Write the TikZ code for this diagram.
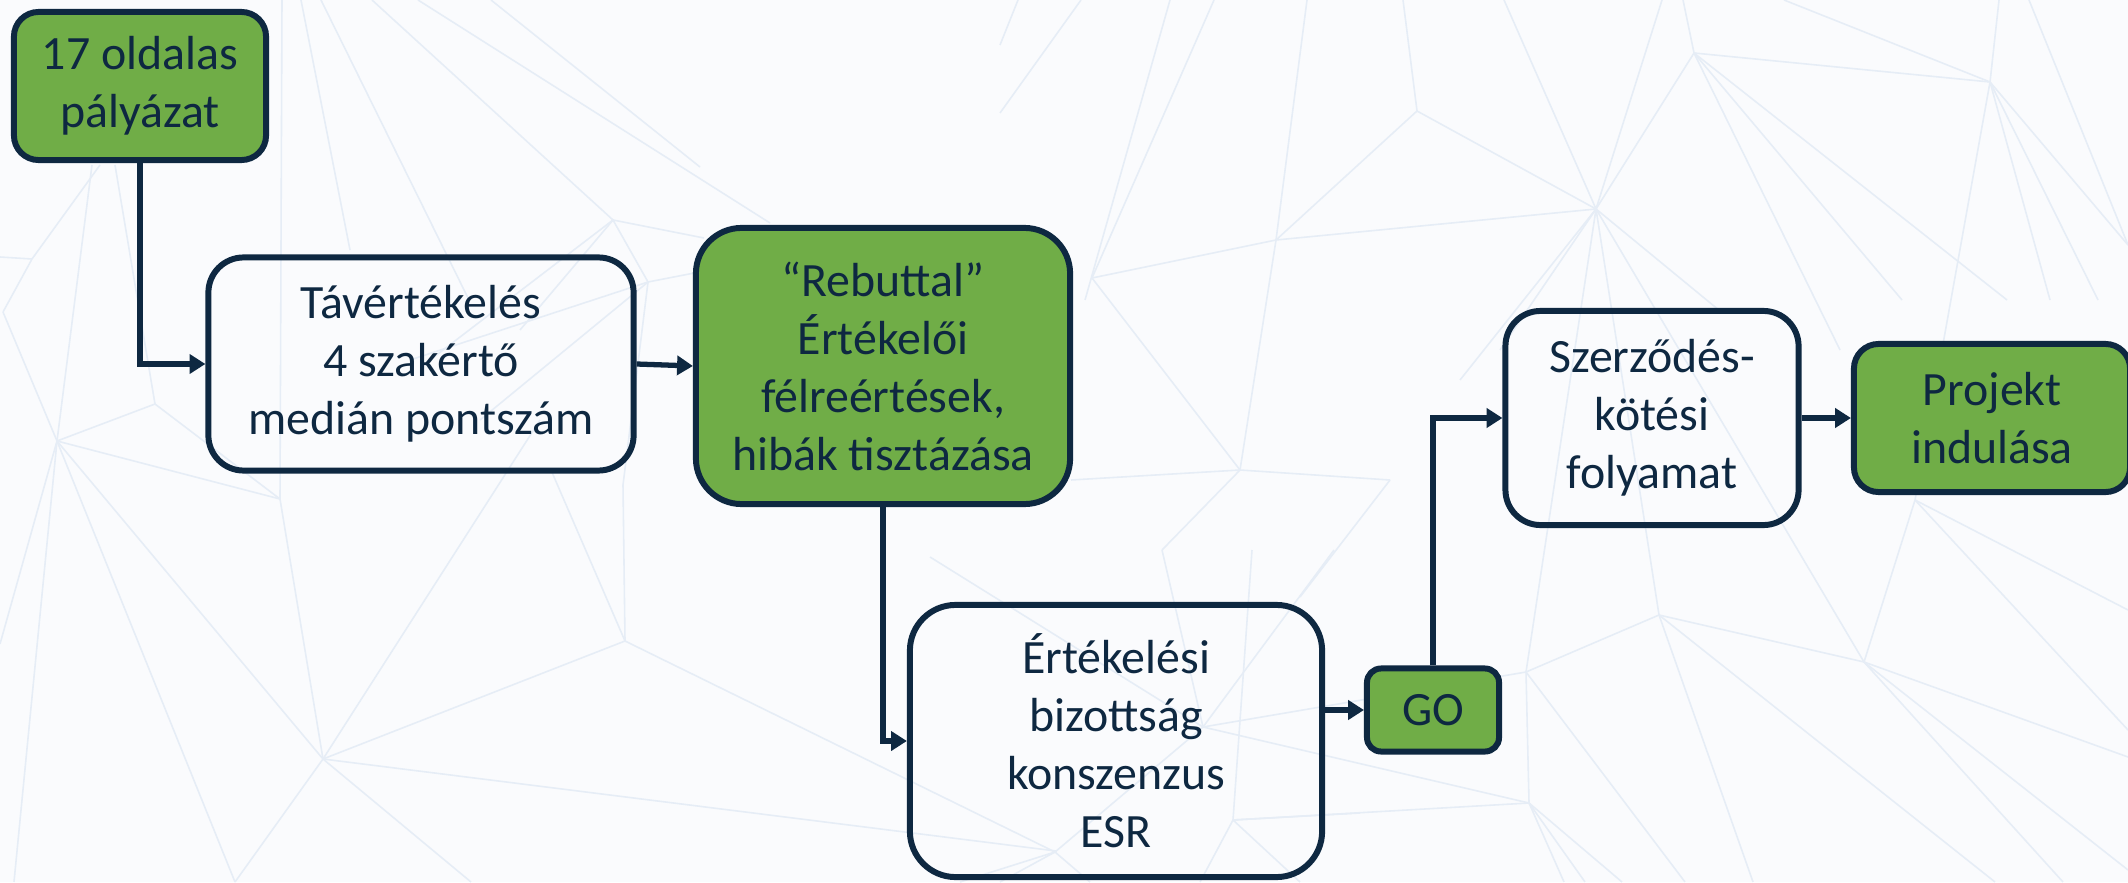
\documentclass[tikz,border=0pt]{standalone}
\usepackage{fontspec}
\setmainfont{Carlito}
\usetikzlibrary{arrows.meta}
\definecolor{navy}{HTML}{0E2841}
\definecolor{leaf}{HTML}{70AD47}
\definecolor{paper}{HTML}{FAFBFD}
\definecolor{meshblue}{HTML}{E6EDF6}

\begin{document}
\begin{tikzpicture}[x=0.01cm,y=-0.01cm,
    box/.style={draw=navy,line width=1.7pt,align=center,text=navy,inner sep=0pt,
      font=\fontsize{13.6}{16.5}\selectfont},
    greenbox/.style={box,fill=leaf},
    flow/.style={draw=navy,line width=1.5pt,-{Triangle[length=4.5pt,width=5.4pt]}},
    meshline/.style={draw=meshblue,line width=0.45pt}]
    \useasboundingbox (0,0) rectangle (2128,882);
    \fill[paper] (0,0) rectangle (2128,882);
    % faint triangle mesh in the background
    \foreach \xa/\ya/\xb/\yb in {57/441/155/404, 155/404/280/499, 57/441/280/499,
      0/257/32/259, 32/259/3/312, 3/312/57/441, 32/259/100/165, 57/441/92/165,
      155/404/115/165, 57/441/0/644, 57/441/14/882, 57/441/323/759, 57/441/235/882,
      280/499/323/759, 280/499/282/0, 323/759/1056/851, 323/759/540/420,
      323/759/235/882, 323/759/471/882, 323/759/625/641, 625/641/623/485,
      625/641/1055/852, 625/641/551/470, 623/485/648/282, 648/282/613/220,
      648/282/720/268, 648/282/410/360, 648/282/480/420, 613/220/372/0,
      418/0/770/223, 613/220/704/238, 613/220/430/360, 613/220/520/330,
      301/0/350/250, 321/0/469/300, 491/0/700/167,
      1403/0/1417/111, 1417/111/1596/209, 1417/111/1276/240, 1504/0/1596/209,
      1662/0/1596/209, 1694/53/1596/209, 1683/0/1694/53, 1694/53/1990/82,
      1784/0/1990/82, 1999/0/1990/82, 2029/0/2128/245, 1307/0/1276/240,
      1276/240/1596/209, 1276/240/1092/278, 1214/0/1092/278, 1170/0/1085/300,
      1081/0/1000/113, 1018/0/1000/45, 1596/209/1460/380, 1596/209/1500/350,
      1596/209/1526/672, 1596/209/1659/615, 1596/209/1864/662, 1596/209/1720/311,
      1694/53/1840/350, 1694/53/1902/300, 1694/53/2007/300, 1990/82/2050/300,
      1990/82/2098/300, 1990/82/2128/245, 1990/82/1915/500,
      1276/240/1240/470, 1092/278/1240/470, 1240/470/1071/480, 1240/470/1390/480,
      1240/470/1162/550, 1162/550/1203/727, 1334/550/1203/727, 1300/597/1390/480,
      1203/727/1055/852, 1203/727/1526/672, 1203/727/1529/803, 1203/727/930/557,
      1055/852/1000/882, 1055/852/960/882, 1055/852/1090/882, 1233/820/1360/813,
      1233/820/1252/550, 1233/820/1200/882, 1233/820/1300/882, 1233/820/1529/803,
      1529/803/1564/882, 1529/803/1585/882, 1529/803/1622/882, 1529/803/1526/672,
      1526/672/1659/615, 1526/672/1685/882, 1659/615/1864/662, 1659/615/1753/882,
      1659/615/1995/882, 1864/662/1915/500, 1864/662/2128/757, 1864/662/2063/882,
      1864/662/2128/870, 1915/500/2128/610, 1915/500/2128/730}
      \draw[meshline] (\xa,\ya) -- (\xb,\yb);

    % process boxes
    \node[greenbox,rounded corners=7pt,minimum width=2.52cm,minimum height=1.48cm]
      (palyazat) at (140,86) {17 oldalas\\pályázat};
    \node[box,rounded corners=10pt,minimum width=4.25cm,minimum height=2.13cm]
      (tavert) at (421,364) {Távértékelés\\4 szakértő\\medián pontszám};
    \node[greenbox,rounded corners=13pt,minimum width=3.74cm,minimum height=2.76cm]
      (rebuttal) at (883,366) {“Rebuttal”\\Értékelői\\félreértések,\\hibák tisztázása};
    \node[box,rounded corners=13pt,minimum width=4.12cm,minimum height=2.72cm]
      (bizottsag) at (1116,741) {Értékelési\\bizottság\\konszenzus\\ESR};
    \node[greenbox,rounded corners=4pt,minimum width=1.32cm,minimum height=0.83cm]
      (go) at (1433,710) {GO};
    \node[box,rounded corners=10pt,minimum width=2.93cm,minimum height=2.14cm]
      (szerzodes) at (1652,418) {Szerződés-\\kötési\\folyamat};
    \node[greenbox,rounded corners=7pt,minimum width=2.76cm,minimum height=1.48cm]
      (projekt) at (1992,418) {Projekt\\indulása};

    % connectors
    \draw[flow] (palyazat.south) |- (tavert.west);
    \draw[flow] (tavert.east) -- (rebuttal.west);
    \draw[flow] (rebuttal.south) |- (bizottsag.west);
    \draw[flow] (bizottsag.east |- go.west) -- (go.west);
    \draw[flow] (go.north) |- (szerzodes.west);
    \draw[flow] (szerzodes.east) -- (projekt.west);
\end{tikzpicture}
\end{document}
